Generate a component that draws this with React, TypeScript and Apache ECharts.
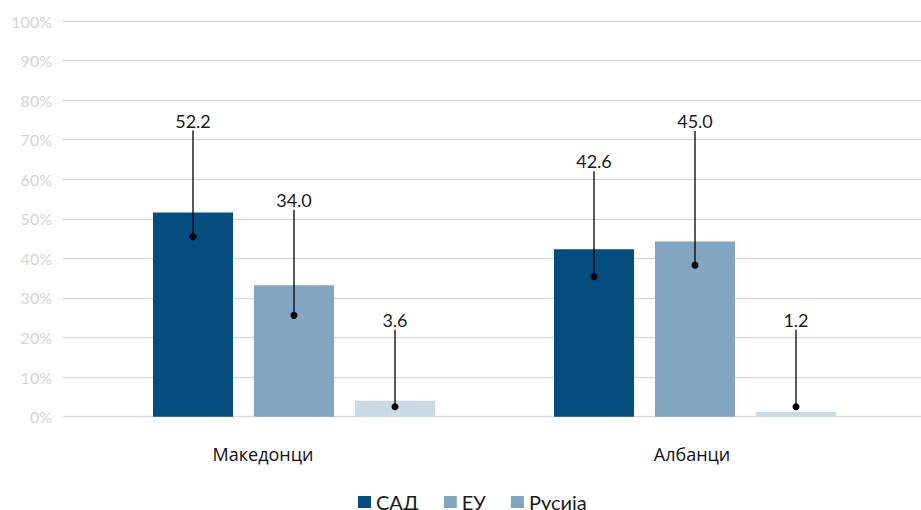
import React, { useEffect, useRef } from "react";
import * as echarts from "echarts";

const categories = ["Македонци", "Албанци"];
const seriesNames = ["САД", "ЕУ", "Русија"];

// bar heights (percent) as drawn
const usaValues = [51.6, 42.3];
const euValues = [33.2, 44.3];
const russiaValues = [4.0, 1.2];

// data label texts
const usaLabels = ["52.2", "42.6"];
const euLabels = ["34.0", "45.0"];
const russiaLabels = ["3.6", "1.2"];

// callout anchors (percent, on the value axis): dot end and line top
const usaDot = [45.5, 35.4];
const euDot = [25.6, 38.3];
const russiaDot = [2.5, 2.5];
const usaLineTop = [72.3, 62.0];
const euLineTop = [52.3, 72.2];
const russiaLineTop = [22.0, 22.0];

const yTicks = [0, 10, 20, 30, 40, 50, 60, 70, 80, 90, 100];

const COLORS = ["#034e7f", "#82a6c2", "#c9dae6"];
const LEGEND_COLORS = ["#034e7f", "#82a6c2", "#82a6c2"];
const BAR_W = 80;
const BAR_GAP = 21;

export default function App() {
  const ref = useRef<HTMLDivElement>(null);
  useEffect(() => {
    if (!ref.current) return;
    const chart = echarts.init(ref.current, undefined, { renderer: "svg" });
    const values = [usaValues, euValues, russiaValues];
    const labels = [usaLabels, euLabels, russiaLabels];
    const dots = [usaDot, euDot, russiaDot];
    const tops = [usaLineTop, euLineTop, russiaLineTop];

    const barSeries = seriesNames.map((name, i) => ({
      name,
      type: "bar",
      xAxisIndex: 1,
      yAxisIndex: 1,
      barWidth: BAR_W,
      barGap: (BAR_GAP / BAR_W) * 100 + "%",
      itemStyle: { color: COLORS[i] },
      data: values[i],
      z: 2,
    }));

    const calloutSeries = seriesNames.map((_, i) => ({
      type: "custom",
      xAxisIndex: 1,
      yAxisIndex: 1,
      z: 5,
      silent: true,
      data: categories.map((_c, k) => [k, dots[i][k], tops[i][k]]),
      renderItem: (params: any, api: any) => {
        const cat = api.value(0);
        const d = api.coord([cat, api.value(1)]);
        const t = api.coord([cat, api.value(2)]);
        const x = d[0] + (i - 1) * (BAR_W + BAR_GAP);
        return {
          type: "group",
          children: [
            {
              type: "line",
              shape: { x1: x, y1: t[1], x2: x, y2: d[1] },
              style: { stroke: "#000", lineWidth: 1.3 },
            },
            {
              type: "circle",
              shape: { cx: x, cy: d[1], r: 3.5 },
              style: { fill: "#000" },
            },
            {
              type: "text",
              style: {
                text: labels[i][params.dataIndex],
                x: x,
                y: t[1] - 10,
                align: "center",
                verticalAlign: "middle",
                fontSize: 18,
                fontFamily: "Lato",
                fill: "#1a1a1a",
              },
            },
          ],
        };
      },
    }));

    chart.setOption({
      animation: false,
      backgroundColor: "#fff",
      legend: {
        top: 492,
        left: 358,
        padding: 0,
        itemWidth: 13,
        itemHeight: 12,
        itemGap: 25,
        icon: "rect",
        textStyle: { fontSize: 20, fontFamily: "Lato", color: "#1a1a1a" },
        data: seriesNames.map((n, i) => ({
          name: n,
          itemStyle: { color: LEGEND_COLORS[i] },
        })),
      },
      grid: [
        { left: 63, right: 0, top: 21, bottom: 93.3, containLabel: false },
        { left: 93.5, right: 25.5, top: 21, bottom: 93.3, containLabel: false },
      ],
      xAxis: [
        {
          type: "category",
          gridIndex: 0,
          data: categories,
          axisLine: { show: false },
          axisTick: { show: false },
          axisLabel: {
            fontSize: 18,
            fontFamily: "Open Sans",
            color: "#111",
            margin: 28,
            padding: [0, 29, 0, 0],
          },
        },
        {
          type: "category",
          gridIndex: 1,
          data: categories,
          show: false,
        },
      ],
      yAxis: [
        {
          type: "value",
          gridIndex: 0,
          min: yTicks[0],
          max: yTicks[yTicks.length - 1],
          interval: 10,
          axisLine: { show: false },
          axisTick: { show: false },
          axisLabel: {
            formatter: "{value}%",
            fontSize: 16,
            fontFamily: "Lato",
            color: "#d4d4d4",
            margin: 11,
          },
          splitLine: { lineStyle: { color: "#d9d9d9", width: 1.4 } },
        },
        {
          type: "value",
          gridIndex: 1,
          min: 0,
          max: 100,
          interval: 10,
          show: false,
          splitLine: { show: false },
        },
      ],
      series: [...barSeries, ...calloutSeries],
    });
    return () => chart.dispose();
  }, []);
  return (
    <div
      ref={ref}
      style={{ position: "absolute", left: 0, top: 0, width: 921, height: 510 }}
    />
  );
}
